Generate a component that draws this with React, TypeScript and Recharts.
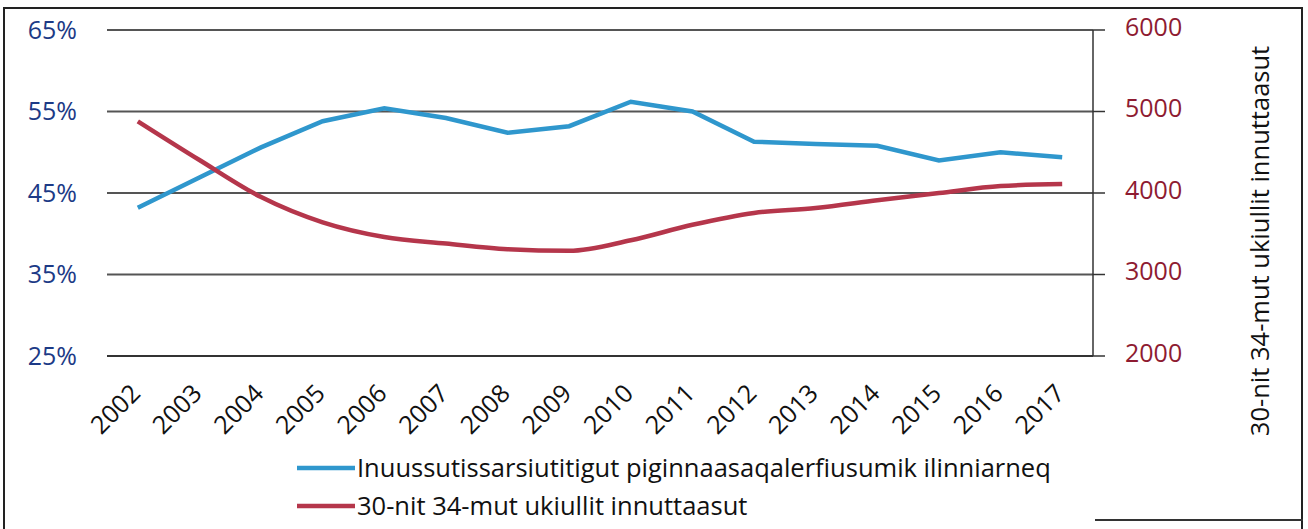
import React from 'react';
import { LineChart, Line, XAxis, YAxis, CartesianGrid, Legend } from 'recharts';

const years = ['2002', '2003', '2004', '2005', '2006', '2007', '2008', '2009', '2010', '2011', '2012', '2013', '2014', '2015', '2016', '2017'];
const vocationalShare = [43.2, 46.9, 50.6, 53.8, 55.4, 54.2, 52.4, 53.2, 56.2, 55.0, 51.3, 51.0, 50.8, 49.0, 50.0, 49.4];
const population30to34 = [4880, 4405, 3950, 3640, 3460, 3380, 3310, 3290, 3420, 3610, 3755, 3815, 3910, 4000, 4085, 4110];
const leftTicks = [25, 35, 45, 55, 65];
const rightTicks = [2000, 3000, 4000, 5000, 6000];
const seriesNames = [
  'Inuussutissarsiutitigut piginnaasaqalerfiusumik ilinniarneq',
  '30-nit 34-mut ukiullit innuttaasut',
];
const rightAxisTitle = '30-nit 34-mut ukiullit innuttaasut';

const data = years.map((year, i) => ({
  year,
  share: vocationalShare[i],
  pop: population30to34[i],
}));

const FONT = '"Open Sans", "Noto Sans", sans-serif';
const BLUE = '#2f97cd';
const RED = '#b5364b';

const XTick = (props: any) => {
  const { x, y, payload } = props;
  return (
    <text
      transform={`translate(${x + 4},${y + 39}) rotate(-45)`}
      textAnchor="end"
      fontSize={25}
      fontFamily={FONT}
      fill="#111"
    >
      {payload.value}
    </text>
  );
};

const LegendContent = (props: any) => {
  const payload = [...(props.payload || [])].sort(
    (a: any, b: any) => seriesNames.indexOf(a.value) - seriesNames.indexOf(b.value)
  );
  return (
    <svg width={1308} height={110} style={{ display: 'block' }}>
      {payload.map((e: any, i: number) => {
        const base = 58 + 38 * i;
        return (
          <g key={i}>
            <line x1={297} x2={355} y1={base - 9} y2={base - 9} stroke={e.color} strokeWidth={4.5} />
            <text x={357} y={base} fontSize={25.5} fontFamily={FONT} fill="#111">
              {e.value}
            </text>
          </g>
        );
      })}
    </svg>
  );
};

const RightTitle = (props: any) => {
  const vb = props.viewBox || { x: 0, y: 0, width: 0, height: 0 };
  const cx = vb.x + 166;
  const cy = vb.y + vb.height / 2 + 48;
  return (
    <text
      x={cx}
      y={cy}
      transform={`rotate(-90, ${cx}, ${cy})`}
      textAnchor="middle"
      dominantBaseline="central"
      fontSize={25.5}
      fontFamily={FONT}
      fill="#111"
    >
      {rightAxisTitle}
    </text>
  );
};

export default function App() {
  return (
    <div
      style={{
        position: 'absolute',
        left: 0,
        top: 0,
        width: 1308,
        height: 529,
        overflow: 'hidden',
        background: '#fff',
        fontFamily: FONT,
      }}
    >
      <div
        style={{
          position: 'absolute',
          left: 3,
          top: 7,
          width: 1296,
          height: 540,
          borderLeft: '2px solid #222',
          borderTop: '2px solid #222',
          borderRight: '2px solid #222',
        }}
      />
      <div style={{ position: 'absolute', left: 1095, top: 519, width: 208, height: 2, background: '#333' }} />
      <div style={{ position: 'absolute', left: 0, top: 0 }}>
        <LineChart width={1308} height={529} data={data} margin={{ top: 30, right: 0, bottom: 0, left: 0 }}>
          <CartesianGrid yAxisId="left" vertical={false} stroke="#555" strokeWidth={1.8} />
          <XAxis
            dataKey="year"
            scale="band"
            height={63}
            tickLine={false}
            tickSize={0}
            tickMargin={0}
            axisLine={{ stroke: '#333', strokeWidth: 2.2 }}
            tick={<XTick />}
            interval={0}
          />
          <YAxis
            yAxisId="left"
            orientation="left"
            width={107}
            domain={[25, 65]}
            ticks={leftTicks}
            tickFormatter={(v: number) => `${v}%`}
            axisLine={false}
            tickLine={false}
            tickSize={0}
            tickMargin={30}
            tick={{ fill: '#1c3a86', fontSize: 25, fontFamily: FONT }}
          />
          <YAxis
            yAxisId="right"
            orientation="right"
            width={215}
            domain={[2000, 6000]}
            ticks={rightTicks}
            axisLine={{ stroke: '#333', strokeWidth: 1.5 }}
            tickLine={{ stroke: '#333', strokeWidth: 1.5 }}
            tickSize={12}
            tickMargin={20}
            tick={{ fill: '#8e1b31', fontSize: 25, fontFamily: FONT, dy: -3 }}
            label={{ content: <RightTitle /> }}
          />
          <Legend verticalAlign="bottom" content={<LegendContent />} />
          <Line
            yAxisId="left"
            type="linear"
            dataKey="share"
            name={seriesNames[0]}
            stroke={BLUE}
            strokeWidth={4.5}
            dot={false}
            isAnimationActive={false}
          />
          <Line
            yAxisId="right"
            type="monotone"
            dataKey="pop"
            name={seriesNames[1]}
            stroke={RED}
            strokeWidth={4.5}
            dot={false}
            isAnimationActive={false}
          />
        </LineChart>
      </div>
    </div>
  );
}
